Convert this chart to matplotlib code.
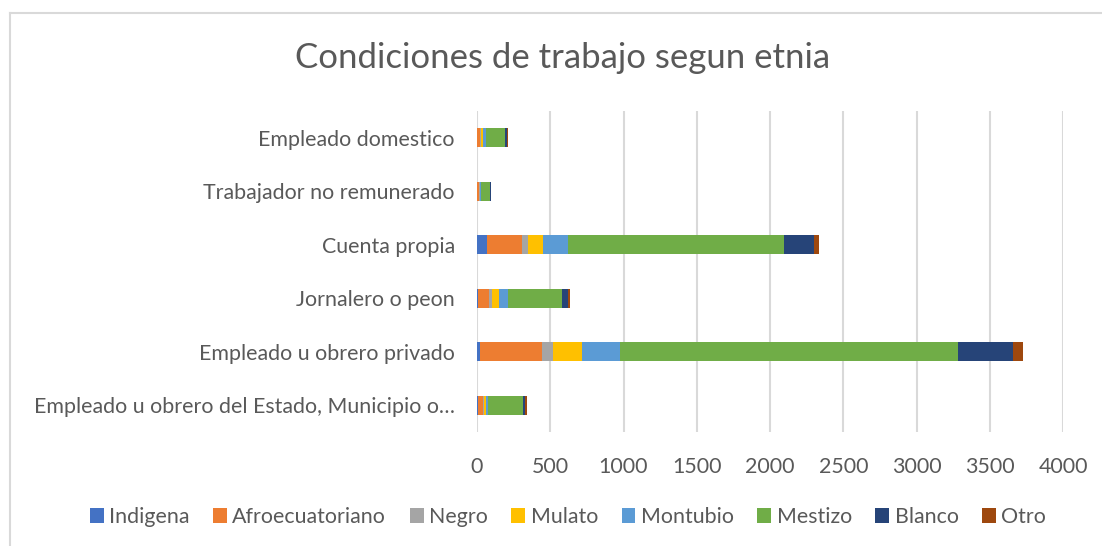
import numpy as np
import matplotlib
matplotlib.use("Agg")
import matplotlib.pyplot as plt
from matplotlib.lines import Line2D

plt.rcParams['font.family'] = ['Lato', 'DejaVu Sans']

# categories (bottom to top)
categorias = ['Empleado u obrero del Estado, Municipio o…',
              'Empleado u obrero privado',
              'Jornalero o peon',
              'Cuenta propia',
              'Trabajador no remunerado',
              'Empleado domestico']

etnias = ['Indigena', 'Afroecuatoriano', 'Negro', 'Mulato',
          'Montubio', 'Mestizo', 'Blanco', 'Otro']

indigena = [5, 20, 5, 68, 2, 3]
afroecuatoriano = [38, 423, 80, 241, 9, 16]
negro = [7, 79, 20, 38, 7, 11]
mulato = [11, 195, 44, 102, 3, 13]
montubio = [16, 261, 61, 173, 4, 21]
mestizo = [239, 2308, 368, 1475, 61, 125]
blanco = [14, 376, 46, 200, 8, 18]
otro = [9, 68, 11, 36, 3, 7]

series = [indigena, afroecuatoriano, negro, mulato, montubio, mestizo, blanco, otro]
colores = ['#4472C4', '#ED7D31', '#A5A5A5', '#FFC000',
           '#5B9BD5', '#70AD47', '#264478', '#9E480E']

fig = plt.figure(figsize=(11.02, 5.46), dpi=100)
ax = fig.add_axes([477/1102, 1-431.75/546, (1063-477)/1102, (431.75-111.25)/546])

y = np.arange(len(categorias))
left = np.zeros(len(categorias))
for nombre, vals, c in zip(etnias, series, colores):
    ax.barh(y, vals, left=left, height=0.355, color=c, label=nombre, zorder=3)
    left += np.array(vals)

ax.set_xlim(0, 4000)
ax.set_ylim(-0.5, len(categorias) - 0.5)
ax.set_xticks(np.arange(0, 4001, 500))
ax.set_yticks(y)
ax.set_yticklabels(categorias)
ax.grid(axis='x', color='#D9D9D9', linewidth=1.5, zorder=0)
for s in ax.spines.values():
    s.set_visible(False)
ax.tick_params(length=0, labelsize=15.4, colors='#595959')
ax.tick_params(axis='x', pad=18)
ax.tick_params(axis='y', pad=16)

fig.text(563/1102, 1-58/546, 'Condiciones de trabajo segun etnia',
         ha='center', va='center', fontsize=25, color='#595959')

fig.legend(loc='center', bbox_to_anchor=(568/1102, 1-517/546), ncol=8,
           frameon=False, fontsize=15.4, labelcolor='#595959',
           handlelength=0.65, handleheight=0.65, handletextpad=0.25,
           columnspacing=1.1)

# chart border (left and top edges)
fig.add_artist(Line2D([9.5/1102, 9.5/1102], [0, 1-12.5/546], transform=fig.transFigure,
                      color='#D9D9D9', linewidth=1.5))
fig.add_artist(Line2D([9.5/1102, 1], [1-12.5/546, 1-12.5/546], transform=fig.transFigure,
                      color='#D9D9D9', linewidth=1.5))

fig.savefig('out.png', dpi=100)
